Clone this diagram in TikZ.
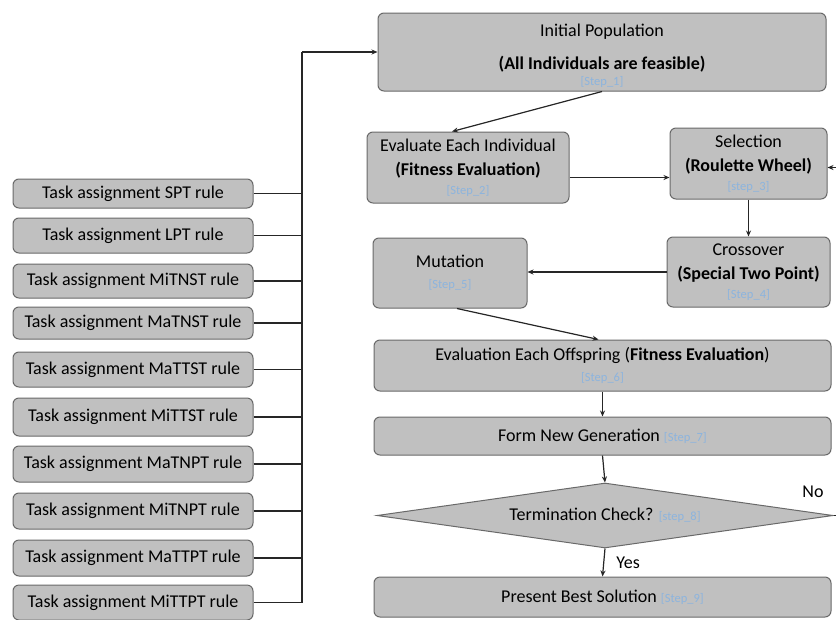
\documentclass[tikz,border=0pt]{standalone}
\usepackage{fontspec}
\setmainfont{Carlito}
\usetikzlibrary{arrows.meta,shapes.geometric,calc}
\definecolor{boxfill}{RGB}{192,192,192}
\definecolor{boxline}{RGB}{105,105,105}
\definecolor{steptxt}{RGB}{140,180,222}
\newcommand\stp[1]{{\fontsize{12.5}{14}\selectfont\color{steptxt}[#1]}}
\tikzset{
  box/.style={draw=boxline, fill=boxfill, rounded corners=6pt, line width=1pt,
    align=center, inner sep=0pt, font=\fontsize{18}{21}\selectfont},
  rulebox/.style={box, minimum width=240pt},
  arr/.style={-{Stealth[length=6pt,width=5pt]}, line width=1.2pt, draw=black!85},
  conn/.style={line width=1.2pt, draw=black!85},
  lbl/.style={font=\fontsize{18}{21}\selectfont, inner sep=0pt},
}
\begin{document}
\begin{tikzpicture}[x=1pt,y=-1pt]
\useasboundingbox (0,0) rectangle (836,619);
\fill[white] (0,0) rectangle (836,619);
% right column
\node[box, minimum width=448pt, minimum height=78pt] (init) at (602,52)
  {\rule{0pt}{20.5pt}Initial Population\\[12pt]\textbf{(All Individuals are feasible)}\\[-5pt]\stp{Step\_1}};
\node[box, minimum width=202pt, minimum height=71pt] (evali) at (468,167.5)
  {Evaluate Each Individual\\[3pt]\textbf{(Fitness Evaluation)}\\[-2pt]\stp{Step\_2}};
\node[box, minimum width=157pt, minimum height=71pt] (sel) at (748.5,163.5)
  {Selection\\[3pt]\textbf{(Roulette Wheel)}\\[-2pt]\stp{step\_3}};
\node[box, minimum width=163pt, minimum height=70pt] (cross) at (748.5,272)
  {Crossover\\[3pt]\textbf{(Special Two Point)}\\[-2pt]\stp{Step\_4}};
\node[box, minimum width=154pt, minimum height=70pt] (mut) at (450,273)
  {Mutation\\[0pt]\stp{Step\_5}};
\node[box, minimum width=457pt, minimum height=51pt] (evalo) at (602.5,365.5)
  {Evaluation Each Offspring (\textbf{Fitness Evaluation})\\[0pt]\stp{Step\_6}};
\node[box, minimum width=457pt, minimum height=38pt] (form) at (602.5,436)
  {Form New Generation \stp{Step\_7}};
\node[box, diamond, rounded corners=0pt, minimum width=456pt, minimum height=65pt, aspect=7] (term) at (605,515.5)
  {Termination Check? \stp{step\_8}};
\node[box, minimum width=457pt, minimum height=40pt] (present) at (602.5,597)
  {Present Best Solution \stp{Step\_9}};
% left column
\node[rulebox, minimum height=29pt] (r1) at (133,193.5) {Task assignment SPT rule};
\node[rulebox, minimum height=35pt] (r2) at (133,235.5) {Task assignment LPT rule};
\node[rulebox, minimum height=34pt] (r3) at (133,281) {Task assignment MiTNST rule};
\node[rulebox, minimum height=32pt] (r4) at (133,323) {Task assignment MaTNST rule};
\node[rulebox, minimum height=35pt] (r5) at (133,369.5) {Task assignment MaTTST rule};
\node[rulebox, minimum height=38pt] (r6) at (133,417) {Task assignment MiTTST rule};
\node[rulebox, minimum height=36pt] (r7) at (133,464) {Task assignment MaTNPT rule};
\node[rulebox, minimum height=36pt] (r8) at (133,511) {Task assignment MiTNPT rule};
\node[rulebox, minimum height=36pt] (r9) at (133,558) {Task assignment MaTTPT rule};
\node[rulebox, minimum height=35pt] (r10) at (133,602.5) {Task assignment MiTTPT rule};
% bus
\coordinate (bustop) at (302,52);
\coordinate (busbot) at (302,602.5);
\foreach \r in {r1,r2,r3,r4,r5,r6,r7,r8,r9,r10}
  \draw[conn] (\r.east) -- (\r.east -| bustop);
\draw[conn] (busbot) -- (bustop);
\draw[arr] (bustop) -- (init.west);
% flow
\draw[arr] (init.south) -- ([xshift=-16pt]evali.north);
\draw[arr] ([yshift=-10pt]evali.east) -- ([yshift=-10pt]evali.east -| sel.west);
\draw[arr] (sel.south) -- (cross.north);
\draw[arr] (cross.west) -- (cross.west -| mut.east);
\draw[arr] ([xshift=7pt]mut.south) -- ([xshift=-4pt]evalo.north);
\draw[arr] (evalo.south) -- (form.north);
\draw[arr] (form.south) -- (term.north);
\draw[arr] (term.south) -- (present.north) node[lbl, pos=0.5, right=12pt] (yes) {Yes};
\coordinate (loopc) at (850,515.5);
\draw[arr] (term.east) -- (loopc) |- ([yshift=-4pt]sel.east);
\node[lbl] (no) at (813,492) {No};
\end{tikzpicture}
\end{document}
